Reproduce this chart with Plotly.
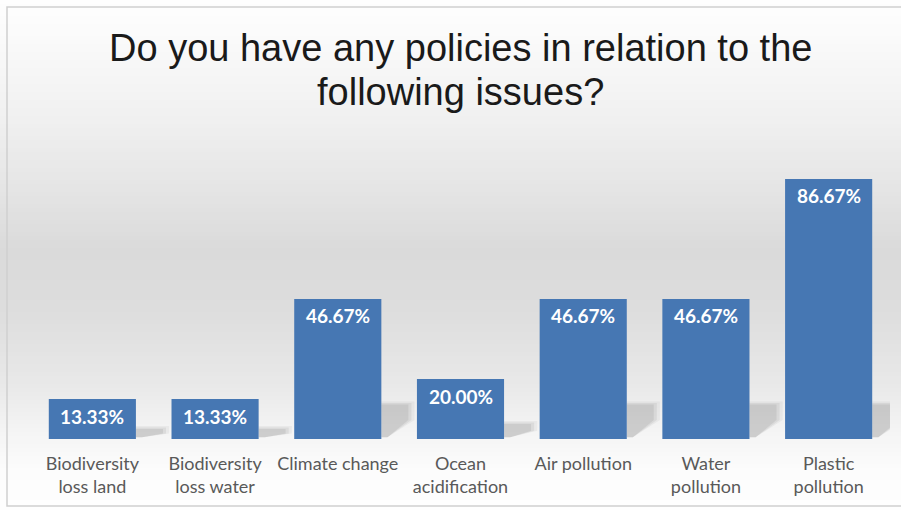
import plotly.graph_objects as go

categories = ["Biodiversity<br>loss land", "Biodiversity<br>loss water", "Climate change",
              "Ocean<br>acidification", "Air pollution", "Water<br>pollution", "Plastic<br>pollution"]
values = [13.33, 13.33, 46.67, 20.00, 46.67, 46.67, 86.67]
labels = [f"{v:.2f}%" for v in values]
title_lines = ["Do you have any policies in relation to the", "following issues?"]

W, H = 901, 510
ML, MR, MT, MB = 31, 11, 139, 71
PW, PH = W - ML - MR, H - MT - MB


def px(x):
    return (x - ML) / PW


def py(y):
    return (H - MB - y) / PH


# background vertical gradient stops (pixel y, gray level)
stops = [(0, 254), (30, 251), (120, 240), (200, 227), (250, 218), (310, 221),
         (380, 232), (430, 244), (470, 252), (510, 254)]


def gray_at(y):
    for (y0, g0), (y1, g1) in zip(stops, stops[1:]):
        if y0 <= y <= y1:
            t = (y - y0) / (y1 - y0)
            return round(g0 + (g1 - g0) * t)
    return stops[-1][1]


shapes = []
step = 4
for y in range(0, H, step):
    g = gray_at(y + step / 2)
    shapes.append(dict(type="rect", xref="paper", yref="paper", layer="below",
                       x0=px(0), x1=px(W), y0=py(y + step), y1=py(y),
                       fillcolor=f"rgb({g},{g},{g})", line=dict(width=0)))

# frame
shapes.append(dict(type="rect", xref="paper", yref="paper", layer="below",
                   x0=px(7), x1=px(W + 5), y0=py(H - 4), y1=py(7),
                   fillcolor="rgba(0,0,0,0)", line=dict(color="#d0d0d0", width=1.5)))

# soft perspective shadows to the right of each bar
bw = 0.71
for i, v in enumerate(values):
    s = min(0.25 * v, 11.5)
    xr = i + bw / 2
    for k, op in enumerate([0.08, 0.11, 0.14]):
        d = 0.025 * (2 - k)
        shapes.append(dict(
            type="path", xref="x", yref="y", layer="below",
            path=(f"M {xr},{0.6} L {xr},{s + d * 20} L {xr + 0.22 + d},{s + d * 20} "
                  f"L {xr + 0.22 + d},{s * 0.55} L {xr + 0.05},{0.6} Z"),
            fillcolor=f"rgba(110,110,110,{op})", line=dict(width=0)))

fig = go.Figure()
fig.add_trace(go.Bar(
    x=list(range(len(values))), y=values, width=bw,
    marker=dict(color="#4677b3", line=dict(width=0)),
    hoverinfo="skip",
))

annotations = []
for i, (v, t) in enumerate(zip(values, labels)):
    annotations.append(dict(x=i, y=v, xref="x", yref="y", text=f"<b>{t}</b>",
                            showarrow=False, yanchor="middle", yshift=-17,
                            font=dict(family="Lato, Open Sans, sans-serif", size=19, color="white")))

for line, yc in zip(title_lines, [48, 92]):
    annotations.append(dict(text=line, xref="paper", yref="paper", x=0.5, y=py(yc),
                            xanchor="center", yanchor="middle", showarrow=False,
                            font=dict(family="Liberation Sans, Arial, sans-serif", size=38,
                                      color="#1a1a1a")))

fig.update_layout(
    width=W, height=H,
    margin=dict(l=ML, r=MR, t=MT, b=MB),
    paper_bgcolor="white", plot_bgcolor="rgba(0,0,0,0)",
    showlegend=False,
    xaxis=dict(tickmode="array", tickvals=list(range(len(values))), ticktext=categories,
               range=[-0.5, len(values) - 0.5], showgrid=False, zeroline=False, showline=False,
               ticks="outside", ticklen=8, tickcolor="rgba(0,0,0,0)",
               tickfont=dict(family="Lato, Open Sans, sans-serif", size=18, color="#595959")),
    yaxis=dict(range=[0, 100], showgrid=False, zeroline=False, showline=False,
               showticklabels=False),
    shapes=shapes,
    annotations=annotations,
)

fig.write_html("out.html")
